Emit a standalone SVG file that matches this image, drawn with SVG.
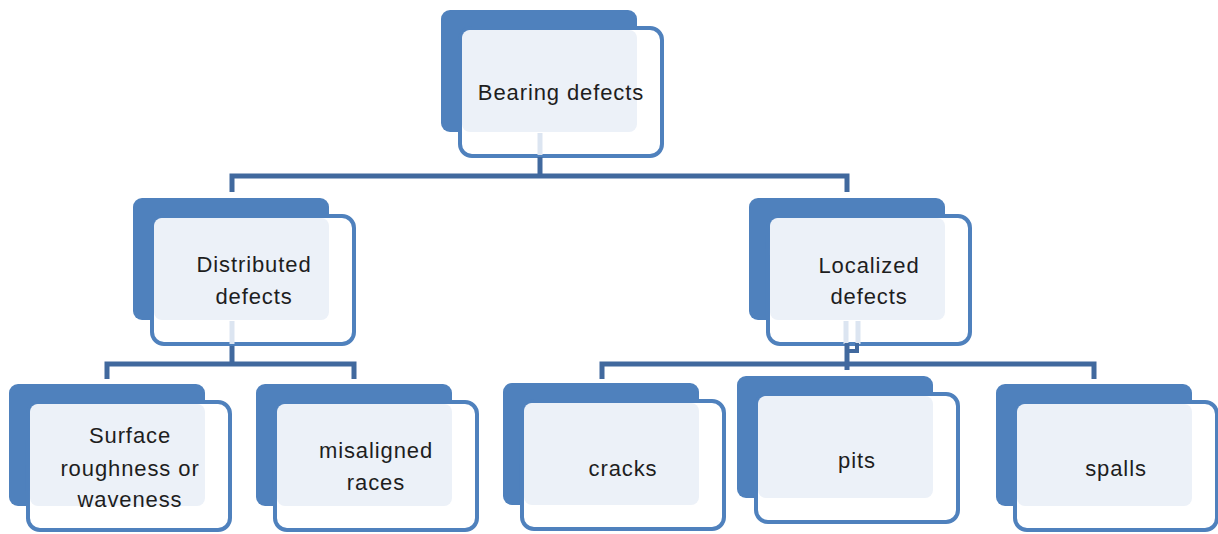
<svg xmlns="http://www.w3.org/2000/svg" width="1218" height="534" viewBox="0 0 1218 534">
  <style>
    .back { fill: #4F81BD; }
    .front { fill: #FFFFFF; stroke: #4F81BD; stroke-width: 4; }
    .tint { fill: #ECF1F8; }
    .label { font-family: "Liberation Sans", Arial, sans-serif; font-size: 22px; letter-spacing: 0.9px; fill: #1E1E1E; text-anchor: middle; }
    .link { fill: none; stroke: #41699E; stroke-width: 5; stroke-linecap: butt; stroke-linejoin: miter; }
    .ghost { fill: none; stroke: #DCE5F1; stroke-width: 5; }
  </style>
  <defs>
    <!-- stacked card: solid back panel, outlined front panel, tinted overlap -->
    <g id="card">
      <rect class="back" x="0" y="0" width="196" height="122" rx="9"/>
      <rect class="front" x="19" y="18" width="202" height="128" rx="12"/>
      <rect class="tint" x="21" y="20" width="175" height="102" rx="8"/>
    </g>
  </defs>

  <g id="node-bearing-defects">
    <use href="#card" x="441" y="10"/>
    <text class="label" x="561" y="100">Bearing defects</text>
  </g>

  <g id="node-distributed-defects">
    <use href="#card" x="133" y="198"/>
    <text class="label" x="254" y="272">Distributed</text>
    <text class="label" x="254" y="304">defects</text>
  </g>

  <g id="node-localized-defects">
    <use href="#card" x="749" y="198"/>
    <text class="label" x="869" y="273">Localized</text>
    <text class="label" x="869" y="304">defects</text>
  </g>

  <g id="node-surface-roughness">
    <use href="#card" x="9" y="384"/>
    <text class="label" x="130" y="443">Surface</text>
    <text class="label" x="130" y="476">roughness or</text>
    <text class="label" x="130" y="507">waveness</text>
  </g>

  <g id="node-misaligned-races">
    <use href="#card" x="256" y="384"/>
    <text class="label" x="376" y="458">misaligned</text>
    <text class="label" x="376" y="490">races</text>
  </g>

  <g id="node-cracks">
    <use href="#card" x="503" y="383"/>
    <text class="label" x="623" y="476">cracks</text>
  </g>

  <g id="node-pits">
    <use href="#card" x="737" y="376"/>
    <text class="label" x="857" y="468">pits</text>
  </g>

  <g id="node-spalls">
    <use href="#card" x="996" y="384"/>
    <text class="label" x="1116" y="476">spalls</text>
  </g>

  <!-- connectors, drawn over the cards so the faint stubs show through -->
  <g id="connectors">
    <path class="ghost" d="M540 133 V155"/>
    <path class="ghost" d="M232 321 V344"/>
    <path class="ghost" d="M846 321 V344 M858 321 V344"/>
    <path class="link" d="M540 157 V176"/>
    <path class="link" d="M232 192 V176 H847 V192"/>
    <path class="link" d="M232 346 V364"/>
    <path class="link" d="M107 379 V364 H354 V379"/>
    <path class="link" d="M847 343 V370"/>
    <path class="link" d="M847 351 H857 V343" style="stroke-width:4"/>
    <path class="link" d="M602 379 V364 H1094 V379"/>
  </g>
</svg>
